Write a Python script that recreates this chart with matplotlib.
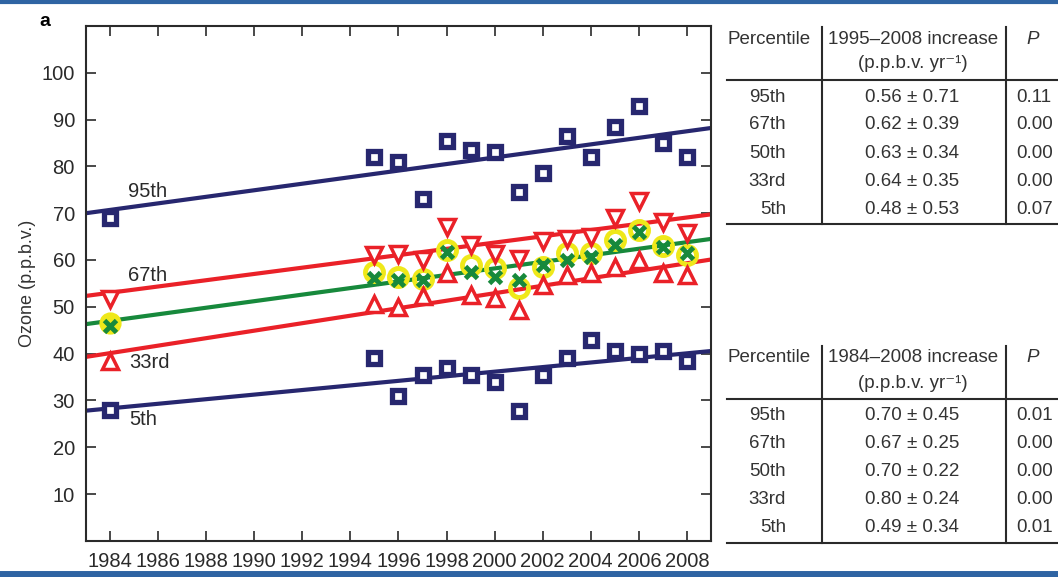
import numpy as np
import matplotlib.pyplot as plt
from matplotlib.lines import Line2D

plt.rcParams['font.family'] = ['Liberation Sans', 'DejaVu Sans']

# --- data ---
years = [1984, 1995, 1996, 1997, 1998, 1999, 2000, 2001, 2002, 2003, 2004, 2005, 2006, 2007, 2008]

p95 = [69, 82, 81, 73, 85.5, 83.5, 83, 74.5, 78.5, 86.5, 82, 88.5, 93, 85, 82]
p67 = [51.7, 61.1, 61.3, 60, 67.1, 63.2, 61.3, 60.2, 64.1, 64.5, 64.9, 69, 72.5, 68.2, 65.8]
p50 = [46, 56.2, 55.7, 55.7, 61.8, 57.5, 56.4, 55.7, 58.9, 60, 60.7, 63.2, 66, 62.8, 61.5]
mean = [46.5, 57.5, 56.4, 56, 62.2, 58.9, 58.2, 54, 58.6, 61.4, 61.4, 64.3, 66.4, 63, 61]
p33 = [38.4, 50.7, 50, 52.2, 57.2, 52.5, 51.8, 49.3, 54.7, 56.8, 57.2, 58.6, 60, 57.2, 56.8]
p5 = [28, 39, 31, 35.5, 37, 35.5, 34, 27.8, 35.5, 39, 43, 40.5, 40, 40.5, 38.5]

# trend lines: value at 1984 and slope (1984-2008 slope, p.p.b.v. per yr)
trend_1984 = [70.7, 53.0, 47.0, 40.1, 28.3]
trend_slope = [0.70, 0.67, 0.70, 0.80, 0.49]

pct_names = ['95th', '67th', '50th', '33rd', '5th']
inc_9508 = ['0.56 ± 0.71', '0.62 ± 0.39', '0.63 ± 0.34', '0.64 ± 0.35', '0.48 ± 0.53']
p_9508 = ['0.11', '0.00', '0.00', '0.00', '0.07']
inc_8408 = ['0.70 ± 0.45', '0.67 ± 0.25', '0.70 ± 0.22', '0.80 ± 0.24', '0.49 ± 0.34']
p_8408 = ['0.01', '0.00', '0.00', '0.00', '0.01']

navy = '#27276f'
red = '#ea2128'
green = '#17893c'
yellow = '#efe81a'
border = '#2f64a3'
ink = '#2a2a2a'

fig = plt.figure(figsize=(10.58, 5.77), dpi=100)
ax = fig.add_axes([0.0813, 0.0627, 0.5907, 0.8923])

xl = np.array([1983, 2009])
line_cols = [navy, red, green, red, navy]
for b, s, c in zip(trend_1984, trend_slope, line_cols):
    ax.plot(xl, b + s * (xl - 1984), color=c, lw=3, zorder=2, solid_capstyle='butt')

ax.plot(years, p95, 's', ms=9, mew=3.8, mec=navy, mfc='white', ls='none', zorder=4)
ax.plot(years, p5, 's', ms=9, mew=3.8, mec=navy, mfc='white', ls='none', zorder=4)
ax.plot(years, p67, 'v', ms=12, mew=2.5, mec=red, mfc='white', ls='none', zorder=4)
ax.plot(years, p33, '^', ms=12, mew=2.5, mec=red, mfc='white', ls='none', zorder=4)
# 1984 mean drawn filled, later years as rings
ax.plot(years[:1], mean[:1], 'o', ms=13, mew=3, mec=yellow, mfc=yellow, ls='none', zorder=3)
ax.plot(years[1:], mean[1:], 'o', ms=13, mew=3.5, mec=yellow, mfc='none', ls='none', zorder=3)
ax.plot(years, p50, 'x', ms=9, mew=3.5, color=green, ls='none', zorder=5)

lab_kw = dict(fontsize=14.5, va='center', color=ink)
ax.text(1984.75, 74.7, '95th', **lab_kw)
ax.text(1984.75, 56.7, '67th', **lab_kw)
ax.text(1984.8, 38.2, '33rd', **lab_kw)
ax.text(1984.8, 26.0, '5th', **lab_kw)

ax.set_xlim(1983, 2009)
ax.set_ylim(0, 110)
ax.set_xticks(range(1984, 2009, 2))
ax.set_yticks(range(10, 101, 10))
ax.tick_params(direction='in', length=7, width=1.2, top=True, right=True,
               labelsize=14.5, colors=ink, pad=8)
for sp in ax.spines.values():
    sp.set_linewidth(1.5)
    sp.set_color(ink)
ax.set_ylabel('Ozone (p.p.b.v.)', fontsize=13, color='#333333', labelpad=4)

fig.text(0.037, 0.955, 'a', fontsize=14, fontweight='bold')


def fig_line(x0, y0, x1, y1, lw=1.5, color=ink):
    # pixel coords (top-left origin) -> figure fraction
    W, H = 1058, 577
    fig.add_artist(Line2D([x0 / W, x1 / W], [1 - y0 / H, 1 - y1 / H],
                          color=color, lw=lw, transform=fig.transFigure))


def fig_txt(x, y, s, ha='center', **kw):
    fig.text(x / 1058, 1 - y / 577, s, ha=ha, va='center', fontsize=13.5,
             color='#333333', **kw)


def draw_table(top, period, incs, pvals):
    fig_line(822, top, 822, top + 197)
    fig_line(1006, top, 1006, top + 197)
    fig_line(727, top + 53, 1058, top + 53)
    fig_line(727, top + 197, 1058, top + 197)
    fig_txt(769, top + 12, 'Percentile')
    fig_txt(913, top + 12, period + ' increase')
    fig_txt(913, top + 37, '(p.p.b.v. yr⁻¹)')
    fig_txt(1033, top + 12, 'P', style='italic')
    for i in range(len(pct_names)):
        y = top + 70 + 28 * i
        fig_txt(786, y, pct_names[i], ha='right')
        fig_txt(912, y, incs[i])
        fig_txt(1016, y, pvals[i], ha='left')


draw_table(27, '1995–2008', inc_9508, p_9508)
draw_table(346, '1984–2008', inc_8408, p_8408)

# blue rules at top and bottom edge
fig_line(0, 1.5, 1058, 1.5, lw=3, color=border)
fig_line(0, 573.5, 1058, 573.5, lw=5, color=border)

fig.savefig('out.png', dpi=100)
